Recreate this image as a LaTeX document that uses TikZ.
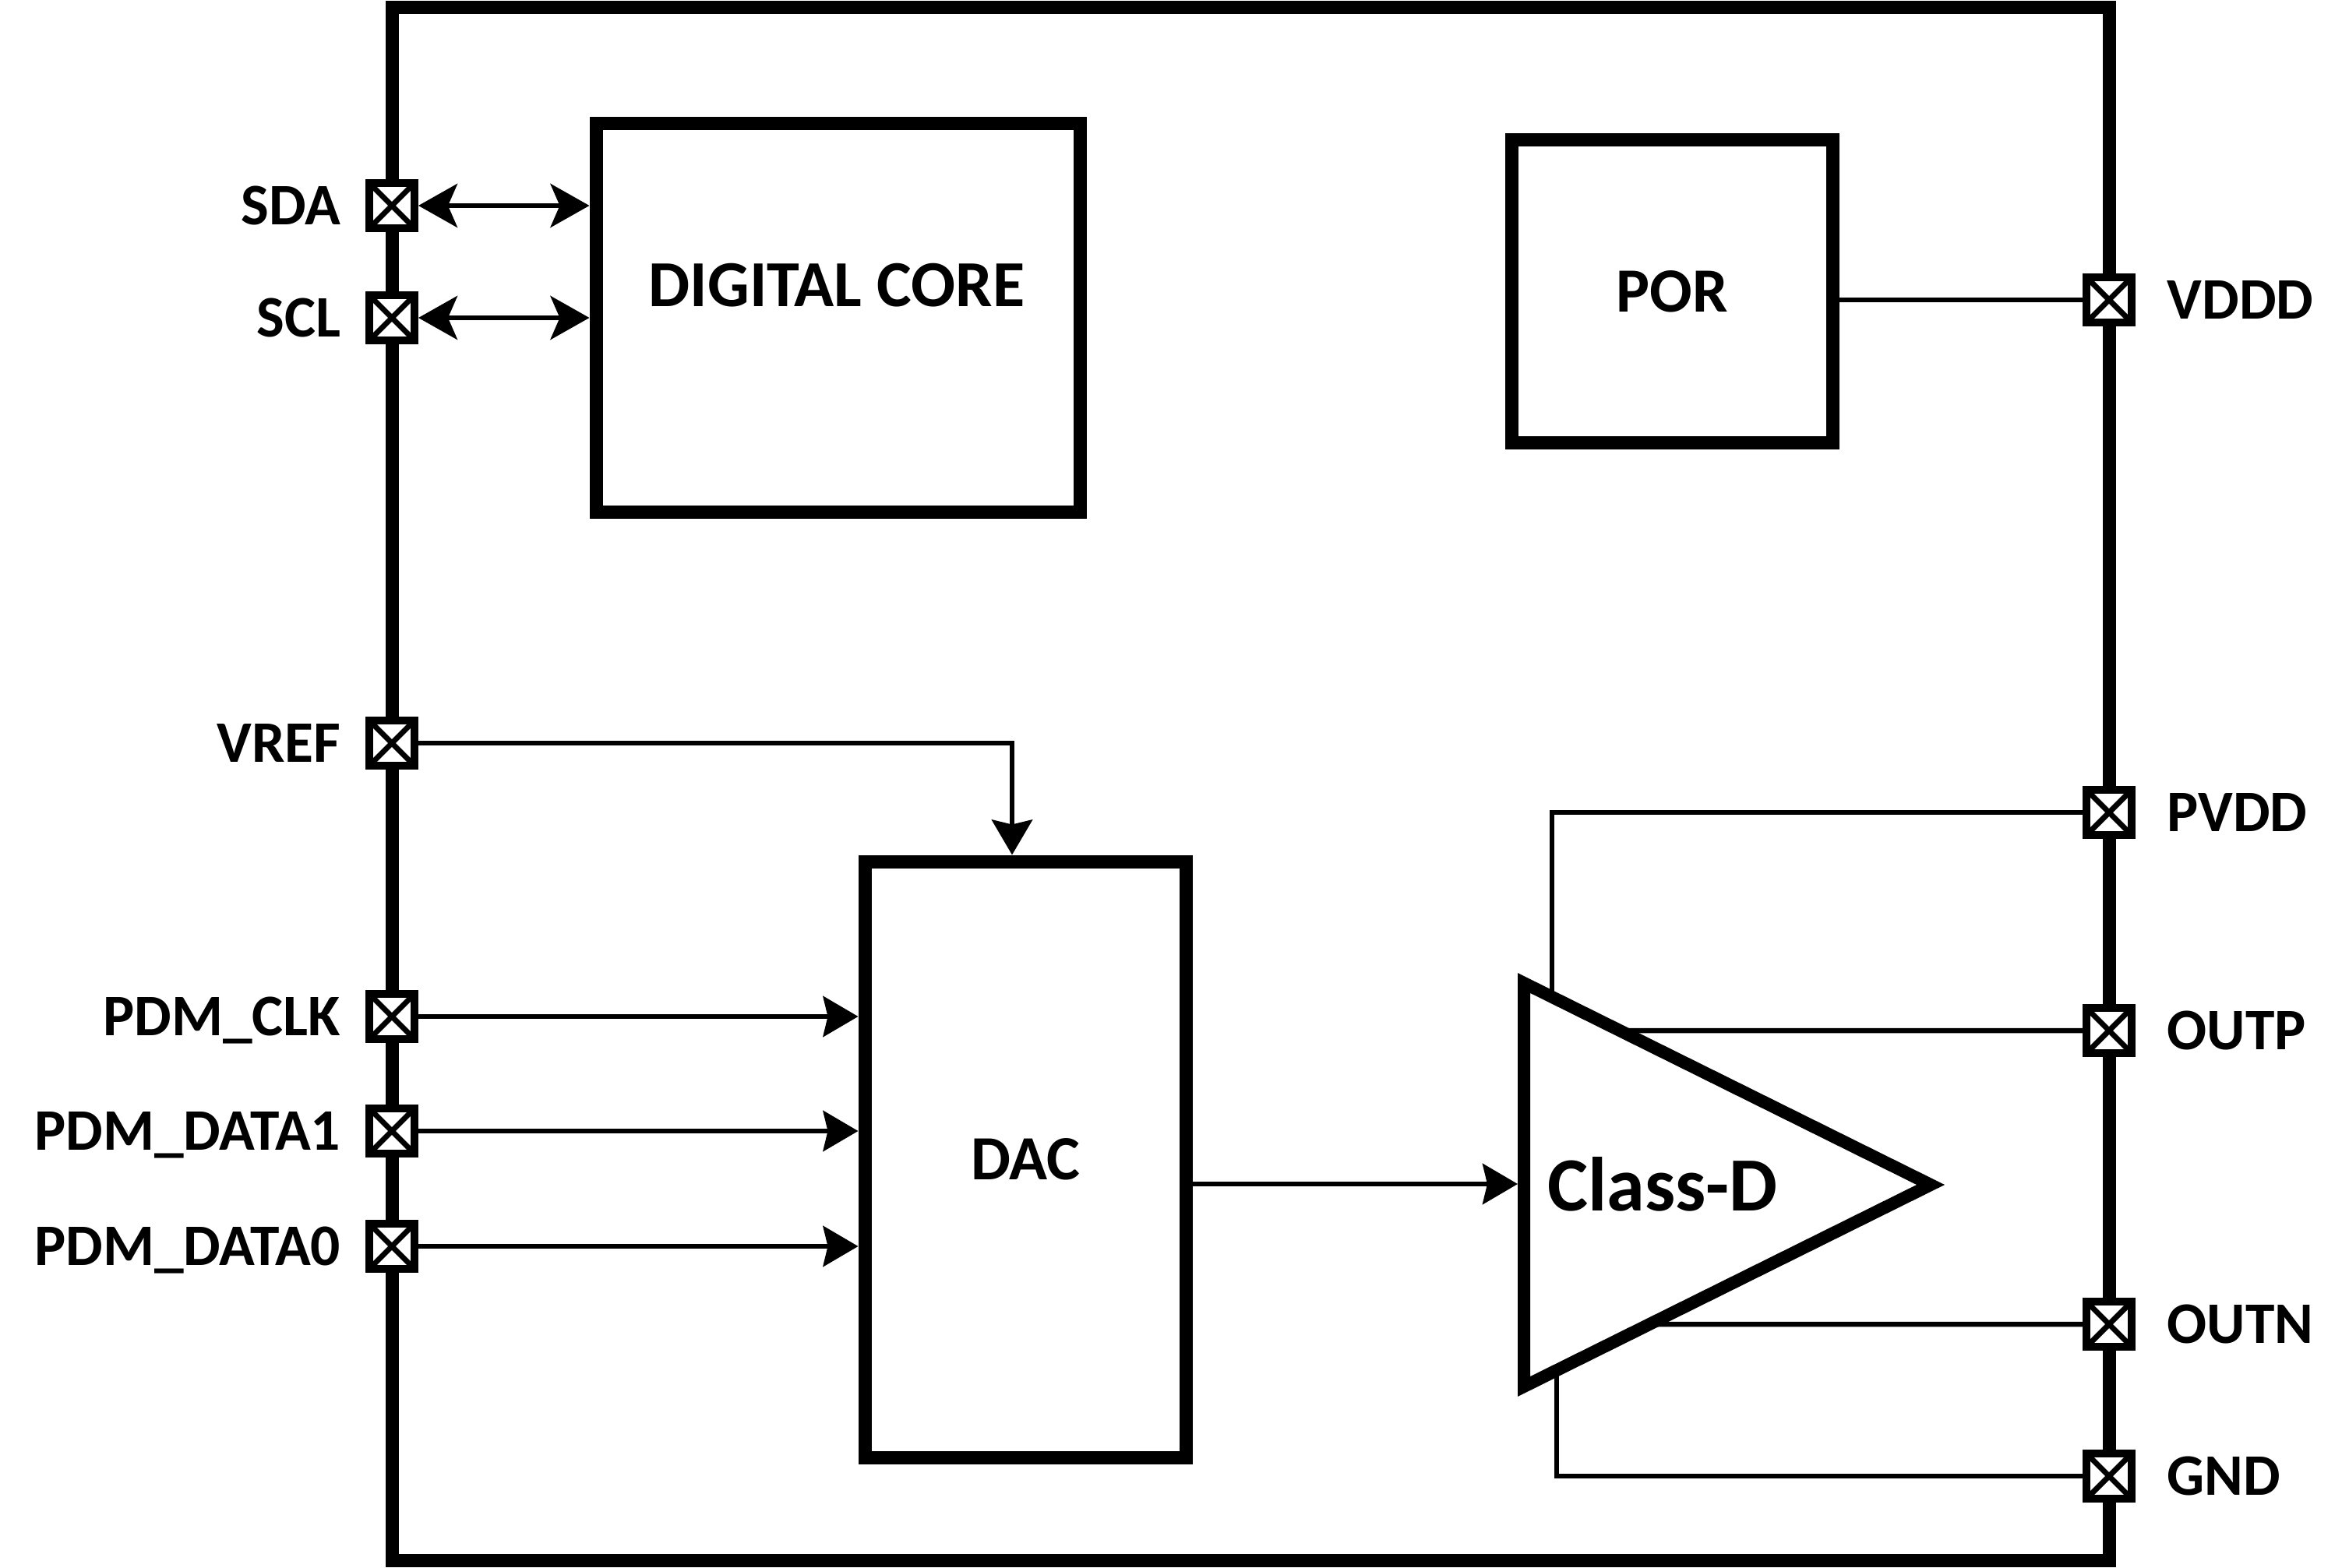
\documentclass[tikz,border=0pt]{standalone}
\usepackage{fontspec}
\setmainfont{Carlito}
\usetikzlibrary{arrows.meta}

\tikzset{
  blockbox/.style={draw, line width=0.17cm, inner sep=0pt},
  blocktext/.style={font=\fontsize{23}{27}\selectfont\bfseries},
  pad/.style={draw, fill=white, line width=0.1cm, minimum size=0.58cm, inner sep=0pt,
    path picture={\draw[line width=0.07cm] (path picture bounding box.north west) -- (path picture bounding box.south east)
      (path picture bounding box.north east) -- (path picture bounding box.south west);}},
  pinname/.style={font=\fontsize{21.5}{25}\selectfont\bfseries, inner sep=0pt, text depth=0pt},
  wire/.style={line width=0.065cm},
  sig/.style={wire, -{Stealth[length=0.45cm, width=0.52cm, inset=0.06cm]}},
  bus/.style={wire, {Stealth[length=0.5cm, width=0.56cm, inset=0.12cm]}-{Stealth[length=0.5cm, width=0.56cm, inset=0.12cm]}}
}

\begin{document}
\begin{tikzpicture}
  \useasboundingbox (0,0) rectangle (30.06,-20.13);

  % Chip outline
  \draw[line width=0.17cm] (5.03,-0.10) rectangle (27.07,-20.03);

  % Left pads
  \node[pad, label={[pinname, label distance=0.31cm]left:SDA}] (sda) at (5.03,-2.64) {};
  \node[pad, label={[pinname, label distance=0.31cm]left:SCL}] (scl) at (5.03,-4.08) {};
  \node[pad, label={[pinname, label distance=0.31cm]left:VREF}] (vref) at (5.03,-9.54) {};
  \node[pad, label={[pinname, label distance=0.31cm]left:PDM\_CLK}] (pdmclk) at (5.03,-13.05) {};
  \node[pad, label={[pinname, label distance=0.31cm]left:PDM\_DATA1}] (pdmdone) at (5.03,-14.52) {};
  \node[pad, label={[pinname, label distance=0.31cm]left:PDM\_DATA0}] (pdmdzero) at (5.03,-16.00) {};

  % Right pads
  \node[pad, label={[pinname, label distance=0.40cm]right:VDDD}] (vddd) at (27.07,-3.85) {};
  \node[pad, label={[pinname, label distance=0.40cm]right:PVDD}] (pvdd) at (27.07,-10.43) {};
  \node[pad, label={[pinname, label distance=0.40cm]right:OUTP}] (outp) at (27.07,-13.23) {};
  \node[pad, label={[pinname, label distance=0.40cm]right:OUTN}] (outn) at (27.07,-17.00) {};
  \node[pad, label={[pinname, label distance=0.40cm]right:GND}] (gnd) at (27.07,-18.95) {};

  % Blocks
  \node[blockbox, minimum width=6.21cm, minimum height=4.99cm] (core) at (10.755,-4.085) {};
  \node[blocktext, font=\fontsize{24}{28}\selectfont\bfseries] (coretext) at (10.74,-3.66) {DIGITAL CORE};
  \node[blockbox, blocktext, minimum width=4.12cm, minimum height=3.89cm] (por) at (21.46,-3.745) {POR};
  \node[blockbox, blocktext, minimum width=4.12cm, minimum height=7.65cm] (dac) at (13.16,-14.885) {DAC};

  % Class-D amplifier
  \coordinate (ampT) at (19.56,-12.62);
  \coordinate (ampB) at (19.56,-17.80);
  \coordinate (ampO) at (24.78,-15.21);
  \draw[line width=0.16cm, line join=miter] (ampT) -- (ampO) -- (ampB) -- cycle;
  \node[font=\fontsize{28}{32}\selectfont\bfseries] (ampname) at (21.34,-15.20) {Class-D};

  % Digital interface
  \draw[bus] (sda.east) -- (sda.east -| core.west);
  \draw[bus] (scl.east) -- (scl.east -| core.west);
  \draw[wire] (por.east |- vddd) -- (vddd.west);

  % Reference and PDM inputs
  \coordinate (vrefdrop) at (12.99,-9.54);
  \draw[sig] (vref.east) -- (vrefdrop) -- (vrefdrop |- dac.north);
  \draw[sig] (pdmclk.east) -- (pdmclk.east -| dac.west);
  \draw[sig] (pdmdone.east) -- (pdmdone.east -| dac.west);
  \draw[sig] (pdmdzero.east) -- (pdmdzero.east -| dac.west);

  % DAC to amplifier
  \coordinate (ampin) at (19.48,-15.20);
  \draw[sig] (dac.east |- ampin) -- (ampin);

  % Supply and outputs
  \coordinate (pvddtap) at (intersection of ampT--ampO and 19.92,0--19.92,-20);
  \coordinate (outptap) at (intersection of ampT--ampO and 0,-13.23--1,-13.23);
  \coordinate (outntap) at (intersection of ampB--ampO and 0,-17.00--1,-17.00);
  \coordinate (gndtap) at (intersection of ampB--ampO and 19.98,0--19.98,-20);
  \draw[wire] (pvdd.west) -| (pvddtap);
  \draw[wire] (outptap) -- (outp.west);
  \draw[wire] (outntap) -- (outn.west);
  \draw[wire] (gnd.west) -| (gndtap);
\end{tikzpicture}
\end{document}
